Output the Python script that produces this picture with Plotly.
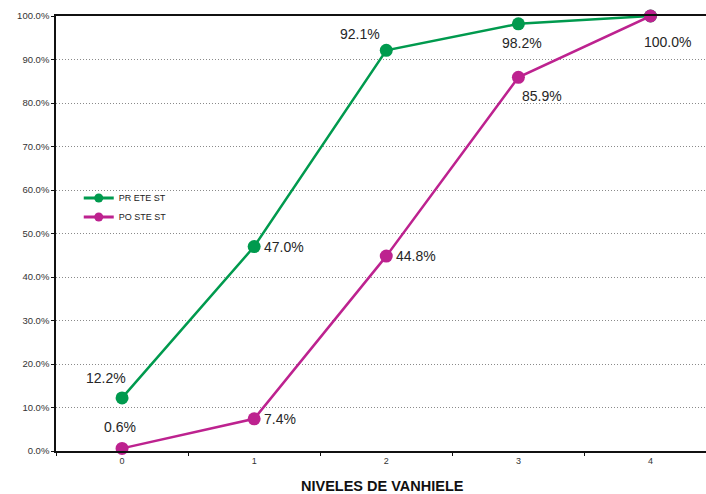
import plotly.graph_objects as go

# Van Hiele levels and cumulative percentages for each test
niveles = [0, 1, 2, 3, 4]
pretest = [12.2, 47.0, 92.1, 98.2, 100.0]
postest = [0.6, 7.4, 44.8, 85.9, 100.0]
y_ticks = [0, 10, 20, 30, 40, 50, 60, 70, 80, 90, 100]

GREEN = "#009a4e"
PINK = "#bd228f"

fig = go.Figure()
for name, series, color in (("PR ETE ST", pretest, GREEN), ("PO STE ST", postest, PINK)):
    fig.add_trace(go.Scatter(
        x=niveles, y=series, mode="lines+markers", name=name,
        line=dict(color=color, width=2.5), marker=dict(color=color, size=13),
        cliponaxis=False, showlegend=False,
    ))
    # legend entry with a smaller marker
    fig.add_trace(go.Scatter(
        x=[None], y=[None], mode="lines+markers", name=name,
        line=dict(color=color, width=3), marker=dict(color=color, size=9),
        showlegend=True,
    ))

# value labels: (x offset, y offset) in pixels for each point
pre_offsets = [(-16, 20), (30, 0), (-26, 16), (4, -19), None]
post_offsets = [(-2, 21), (26, 0), (30, 0), (24, -19), (17, -26)]

for series, offsets in ((pretest, pre_offsets), (postest, post_offsets)):
    for x, v, off in zip(niveles, series, offsets):
        if off is None:
            continue
        fig.add_annotation(
            x=x, y=v, text=f"{v:.1f}%", showarrow=False,
            xshift=off[0], yshift=off[1],
            font=dict(size=14, color="#262626"),
        )

fig.add_annotation(
    x=0.503, y=0, xref="paper", yref="paper", yshift=-45,
    text="<b>NIVELES DE VANHIELE</b>", showarrow=False,
    font=dict(size=14.5, color="#111111"),
)

fig.update_layout(
    width=706, height=494,
    margin=dict(l=56, r=0, t=16, b=43),
    paper_bgcolor="white", plot_bgcolor="white",
    font=dict(family="Liberation Sans, Arial, sans-serif"),
    showlegend=True,
    legend=dict(
        x=0.035, y=0.615, xanchor="left", yanchor="top",
        font=dict(size=9, color="#222222"),
        bgcolor="rgba(0,0,0,0)", itemwidth=30, tracegroupgap=0,
    ),
)

fig.update_xaxes(
    range=[-0.5, 4.42], tickvals=niveles, ticktext=[str(n) for n in niveles],
    ticks="", showgrid=False, zeroline=False,
    showline=True, linecolor="#111111", linewidth=1.5, mirror=True,
    tickfont=dict(size=9, color="#333333"),
    minor=dict(tick0=0.5, dtick=1, ticks="outside", ticklen=3,
               tickcolor="#111111", showgrid=False),
)
fig.update_yaxes(
    range=[0, 100], tickvals=y_ticks,
    ticktext=[f"{t:.1f}%" for t in y_ticks],
    ticks="outside", ticklen=3, tickcolor="#111111",
    showgrid=True, gridcolor="#8a8a8a", griddash="1px,2px", gridwidth=1,
    zeroline=False, showline=True, linecolor="#111111", linewidth=1.5,
    tickfont=dict(size=9.5, color="#333333"),
)

fig.write_html("out.html")
